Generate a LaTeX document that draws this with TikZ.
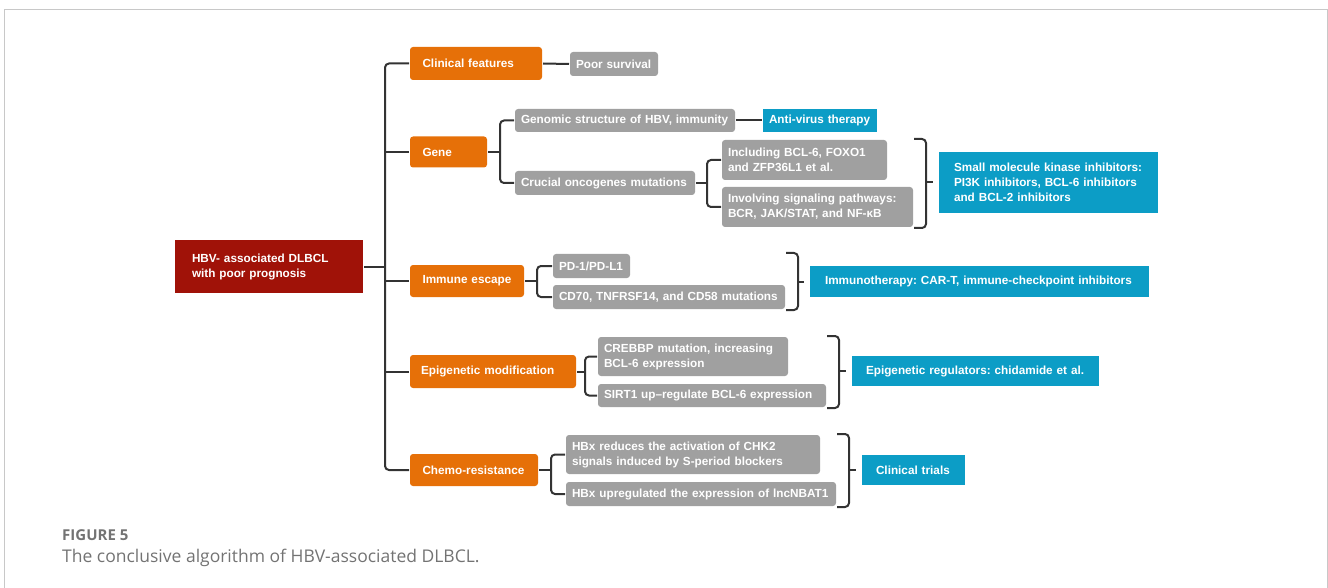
\documentclass[tikz,border=0pt]{standalone}
\usepackage{fontspec}
\setmainfont{Liberation Sans}
\newfontfamily\captionfont{Open Sans}
\usetikzlibrary{positioning,calc}
\frenchspacing
\definecolor{hbvred}{RGB}{160,18,8}
\definecolor{topic}{RGB}{230,112,8}
\definecolor{detail}{RGB}{160,160,160}
\definecolor{therapy}{RGB}{12,157,198}
\definecolor{linecol}{RGB}{51,51,51}
\definecolor{framegray}{RGB}{200,200,200}
\definecolor{captiongray}{RGB}{115,115,115}
\tikzset{
  box/.style={rectangle, rounded corners=3pt, text=white, anchor=west, align=left,
    inner ysep=0pt, outer sep=1pt, font=\bfseries\fontsize{11.75}{15}\selectfont},
  rootbox/.style={box, fill=hbvred, rounded corners=0pt, inner xsep=17pt},
  topicbox/.style={box, fill=topic, inner xsep=12.5pt},
  detailbox/.style={box, fill=detail, inner xsep=6pt},
  therapybox/.style={box, fill=therapy, rounded corners=0pt, inner xsep=15pt},
  wire/.style={draw=linecol, line width=2pt, rounded corners=4pt},
  tick/.style={wire, shorten >=5pt},
}

\begin{document}
\begin{tikzpicture}[x=1pt, y=-1pt]
\useasboundingbox (0,0) rectangle (1328,588);
\draw[framegray, line width=1pt] (4.5,588) -- (4.5,9.5) -- (1327,9.5) -- (1327,588);

\node[rootbox, text width=154pt, minimum height=53pt] (main) at (174,266.5) {HBV- associated DLBCL\\with poor prognosis};

\node[topicbox, text width=107pt, minimum height=33pt] (clin) at (409,63.5) {Clinical features};
\node[topicbox, text width=52pt, minimum height=31pt] (gene) at (409,152) {Gene};
\node[topicbox, text width=89pt, minimum height=32pt] (immune) at (409,281) {Immune escape};
\node[topicbox, inner xsep=11pt, text width=144pt, minimum height=33pt] (epi) at (409,371.5) {Epigenetic modification};
\node[topicbox, text width=103pt, minimum height=32pt] (chemo) at (409,470) {Chemo-resistance};

\node[detailbox, text width=76pt, minimum height=24pt] (poor) at (569,64) {Poor survival};
\node[detailbox, text width=208pt, minimum height=23pt] (genomic) at (514,120.5) {Genomic structure of HBV, immunity};
\node[detailbox, text width=168pt, minimum height=24pt] (crucial) at (514,183) {Crucial oncogenes mutations};
\node[detailbox, text width=153pt, minimum height=40pt] (incl) at (721,160) {Including BCL-6, FOXO1\\and ZFP36L1 et al.};
\node[detailbox, text width=179pt, minimum height=40pt] (invol) at (721,207) {Involving signaling pathways:\\BCR, JAK/STAT, and NF-κB};
\node[detailbox, text width=65pt, minimum height=24pt] (pd1) at (552,266) {PD-1/PD-L1};
\node[detailbox, text width=220pt, minimum height=24pt] (cd70) at (552,297) {CD70, TNFRSF14, and CD58 mutations};
\node[detailbox, text width=178pt, minimum height=39pt] (crebbp) at (597,356.5) {CREBBP mutation, increasing\\BCL-6 expression};
\node[detailbox, text width=216pt, minimum height=23pt] (sirt1) at (597,395.5) {SIRT1 up--regulate BCL-6 expression};
\node[detailbox, text width=242pt, minimum height=39pt] (hbxa) at (565,454.5) {HBx reduces the activation of CHK2\\signals induced by S-period blockers};
\node[detailbox, text width=258pt, minimum height=24pt] (hbxb) at (565,494) {HBx upregulated the expression of lncNBAT1};

\node[therapybox, inner xsep=6pt, text width=102pt, minimum height=23pt] (antivirus) at (762,120.5) {Anti-virus therapy};
\node[therapybox, text width=189pt, minimum height=61pt] (smallmol) at (938,182.5) {Small molecule kinase inhibitors:\\PI3K inhibitors, BCL-6 inhibitors\\and BCL-2 inhibitors};
\node[therapybox, text width=309pt, minimum height=31pt] (immuno) at (809,281.5) {Immunotherapy: CAR-T, immune-checkpoint inhibitors};
\node[therapybox, inner xsep=14pt, text width=219pt, minimum height=30pt] (epireg) at (851,371) {Epigenetic regulators: chidamide et al.};
\node[therapybox, inner xsep=14pt, text width=75pt, minimum height=30pt] (trials) at (861,470) {Clinical trials};

% trunk
\coordinate (trunk) at (385,266.5);
\draw[wire] (clin.west) -| (trunk) |- (chemo.west);
\foreach \n in {main.east, gene.west, immune.west, epi.west}
  \draw[wire] (\n) -- (\n -| trunk);

\draw[wire] (clin.east) -- (poor.west);
\draw[wire] (genomic.east) -- (antivirus.west);

% forks
\coordinate (genefork) at (500,152);
\draw[wire] (gene.east) -- (genefork);
\draw[wire] (genomic.west) -| (genefork) |- (crucial.west);

\coordinate (crucialfork) at (707,183);
\draw[wire] (crucial.east) -- (crucialfork);
\draw[wire] (incl.west) -| (crucialfork) |- (invol.west);

\coordinate (immunefork) at (537,281);
\draw[wire] (immune.east) -- (immunefork);
\draw[wire] (pd1.west) -| (immunefork) |- (cd70.west);

\coordinate (epifork) at (585,371.5);
\draw[wire] (epi.east) -- (epifork);
\draw[wire] (crebbp.west) -| (epifork) |- (sirt1.west);

\coordinate (chemofork) at (551,470);
\draw[wire] (chemo.east) -- (chemofork);
\draw[wire] (hbxa.west) -| (chemofork) |- (hbxb.west);

% brackets
\coordinate (crucialbr) at ($(invol.east)+(12,0)$);
\draw[wire] (invol.east |- incl.north) -| (crucialbr) |- (invol.south east);
\draw[tick] (crucialbr |- smallmol.west) -- (smallmol.west);

\coordinate (immunebr) at ($(cd70.east)+(12,0)$);
\draw[wire] (cd70.east |- pd1.north) -| (immunebr) |- (cd70.south east);
\draw[tick] (immunebr |- immuno.west) -- (immuno.west);

\coordinate (epibr) at ($(sirt1.east)+(12,0)$);
\draw[wire] (sirt1.east |- crebbp.north) -| (epibr) |- (sirt1.south east);
\draw[tick] (epibr |- epireg.west) -- (epireg.west);

\coordinate (chemobr) at ($(hbxb.east)+(12,0)$);
\draw[wire] (hbxb.east |- hbxa.north) -| (chemobr) |- (hbxb.south east);
\draw[tick] (chemobr |- trials.west) -- (trials.west);

\node[anchor=west, inner sep=0pt, text=captiongray, font=\captionfont\bfseries\fontsize{15}{18}\selectfont] (figlabel) at (62,535) {FIGURE 5};
\node[anchor=west, inner sep=0pt, text=captiongray, font=\captionfont\fontsize{17.5}{20}\selectfont] (figcaption) at (62,558) {The conclusive algorithm of HBV-associated DLBCL.};
\end{tikzpicture}
\end{document}
